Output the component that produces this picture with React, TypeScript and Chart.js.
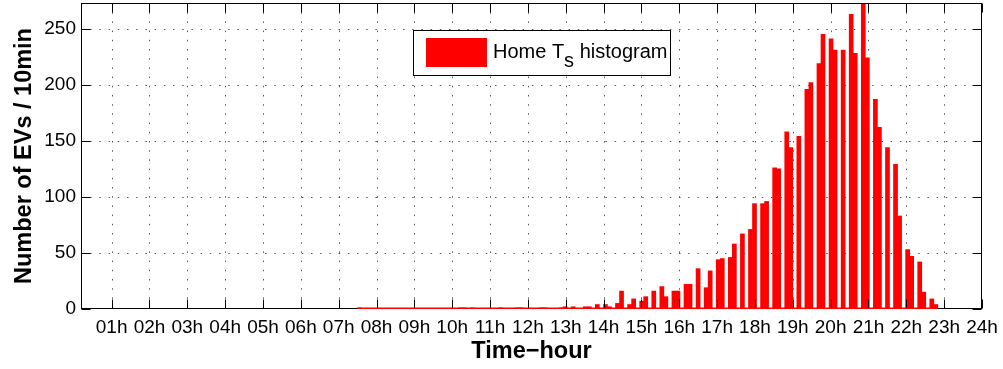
import React, { useEffect, useRef } from 'react';
import { Chart, registerables } from 'chart.js';

Chart.register(...registerables);

// ---- data ----
// EV start-time counts, one value per 10-minute slot from 07:30 to 22:50
const slotStartHour = 7.5;
const slotEndHour = 22 + 50 / 60;
const slotCounts = [
  1, 0, 0, 0, 0, 0, 0, 0, 0, 0, 0, 0, 0, 0, 0, 0,
  1, 1, 1, 0, 0, 0, 0, 1, 0, 1, 1, 0, 0, 1, 1, 0,
  1, 2, 2, 0, 2, 2, 4, 4, 2, 5, 16, 4, 9, 7, 11, 16,
  20, 11, 16, 16, 22, 22, 36, 19, 34, 44, 45, 46, 58, 67, 71, 94,
  94, 96, 126, 125, 158, 144, 154, 196, 202, 219, 245, 241, 231, 231, 263, 228,
  273, 224, 187, 162, 144, 129, 83, 53, 47, 42, 15, 9, 4,
];
// number of histogram bins used over [slotStartHour, slotEndHour]
const histBins = 144;

const xTickHours = [1, 2, 3, 4, 5, 6, 7, 8, 9, 10, 11, 12, 13, 14, 15, 16, 17, 18, 19, 20, 21, 22, 23, 24];
const xTickLabels = [
  '01h', '02h', '03h', '04h', '05h', '06h', '07h', '08h', '09h', '10h', '11h', '12h',
  '13h', '14h', '15h', '16h', '17h', '18h', '19h', '20h', '21h', '22h', '23h', '24h',
];
const yTickValues = [0, 50, 100, 150, 200, 250];
const xMin = 0.19;
const xMax = 24;
const yMin = 0;
const yMax = 273;

const legendParts = ['Home T', 's', ' histogram'];
const xTitle = 'Time\u2212hour';
const yTitle = 'Number of EVs / 10min';

// ---- style ----
const barColor = '#ff0000';
const FONT = '"Liberation Sans", Arial, Helvetica, sans-serif';

function buildBins() {
  const width = (slotEndHour - slotStartHour) / histBins;
  const counts = new Array(histBins).fill(0);
  const n = slotCounts.length - 1;
  slotCounts.forEach((c, j) => {
    const k = j === 0 ? 0 : Math.min(histBins - 1, Math.ceil((j * histBins) / n) - 1);
    counts[k] += c;
  });
  return counts.map((c, k) => ({ x: slotStartHour + (k + 0.5) * width, y: c }));
}

const gridPlugin = {
  id: 'dottedGrid',
  beforeDatasetsDraw(chart: any) {
    const { ctx, chartArea } = chart;
    const { left, right, top, bottom } = chartArea;
    const xs = chart.scales.x;
    const ys = chart.scales.y;
    ctx.save();
    ctx.strokeStyle = 'rgba(60,60,60,0.85)';
    ctx.lineWidth = 1;
    ctx.setLineDash([1.5, 7.7]);
    xTickHours.forEach((h) => {
      const px = Math.round(xs.getPixelForValue(h)) + 0.5;
      if (px <= left + 1 || px >= right - 1) return;
      ctx.beginPath();
      ctx.moveTo(px, top);
      ctx.lineTo(px, bottom);
      ctx.stroke();
    });
    yTickValues.forEach((v) => {
      const py = Math.round(ys.getPixelForValue(v)) + 0.5;
      if (py <= top + 1 || py >= bottom - 1) return;
      ctx.beginPath();
      ctx.moveTo(left, py);
      ctx.lineTo(right, py);
      ctx.stroke();
    });
    ctx.restore();
  },
};

const framePlugin = {
  id: 'matlabFrame',
  afterDatasetsDraw(chart: any) {
    const { ctx, chartArea } = chart;
    const { left, right, top, bottom } = chartArea;
    const xs = chart.scales.x;
    const ys = chart.scales.y;
    ctx.save();
    ctx.setLineDash([]);
    ctx.strokeStyle = '#000';
    ctx.lineWidth = 1;
    const L = Math.round(left) + 0.5;
    const R = Math.round(right) - 0.5;
    const T = Math.round(top) + 0.5;
    const B = Math.round(bottom) - 0.5;
    ctx.strokeRect(L, T, R - L, B - T);
    // inward ticks
    const tl = 9;
    ctx.beginPath();
    xTickHours.forEach((h) => {
      const px = Math.round(xs.getPixelForValue(h)) + 0.5;
      ctx.moveTo(px, B);
      ctx.lineTo(px, B - tl);
      ctx.moveTo(px, T);
      ctx.lineTo(px, T + tl);
    });
    yTickValues.forEach((v) => {
      const py = Math.round(ys.getPixelForValue(v)) + 0.5;
      ctx.moveTo(L, py);
      ctx.lineTo(L + tl, py);
      ctx.moveTo(R, py);
      ctx.lineTo(R - tl, py);
    });
    ctx.stroke();
    // red edge of the (empty) histogram bins along the baseline
    ctx.strokeStyle = barColor;
    ctx.lineWidth = 1.5;
    const y0 = ys.getPixelForValue(0) - 0.75;
    ctx.beginPath();
    ctx.moveTo(xs.getPixelForValue(slotStartHour), y0);
    ctx.lineTo(xs.getPixelForValue(slotEndHour), y0);
    ctx.stroke();
    ctx.restore();
  },
};

const legendPlugin = {
  id: 'matlabLegend',
  afterDraw(chart: any) {
    const { ctx } = chart;
    ctx.save();
    ctx.setLineDash([]);
    ctx.fillStyle = '#fff';
    ctx.fillRect(413, 30, 258, 46);
    ctx.strokeStyle = '#000';
    ctx.lineWidth = 1;
    ctx.strokeRect(413.5, 30.5, 257, 45);
    ctx.fillStyle = barColor;
    ctx.fillRect(426, 38, 61, 29);
    ctx.fillStyle = '#000';
    ctx.font = `20px ${FONT}`;
    ctx.textBaseline = 'alphabetic';
    ctx.textAlign = 'left';
    let x = 493;
    ctx.fillText(legendParts[0], x, 58);
    x += ctx.measureText(legendParts[0]).width;
    ctx.fillText(legendParts[1], x, 67);
    x += ctx.measureText(legendParts[1]).width;
    ctx.fillText(legendParts[2], x, 58);
    ctx.restore();
  },
};

export default function App() {
  const canvasRef = useRef<HTMLCanvasElement | null>(null);

  useEffect(() => {
    document.body.style.margin = '0';
    const canvas = canvasRef.current;
    if (!canvas) return;
    const chart = new Chart(canvas, {
      type: 'bar',
      data: {
        datasets: [
          {
            label: legendParts.join(''),
            data: buildBins(),
            backgroundColor: barColor,
            borderWidth: 0,
            barPercentage: 1,
            categoryPercentage: 1,
          } as any,
        ],
      },
      options: {
        responsive: false,
        animation: false,
        devicePixelRatio: 1,
        layout: { padding: { left: 0, right: 21, top: 3, bottom: 0 } },
        plugins: { legend: { display: false }, tooltip: { enabled: false } },
        scales: {
          x: {
            type: 'linear',
            min: xMin,
            max: xMax,
            offset: false,
            grid: { display: false, drawTicks: false },
            border: { display: false },
            afterBuildTicks: (axis: any) => {
              axis.ticks = xTickHours.map((v) => ({ value: v }));
            },
            afterFit: (s: any) => {
              s.height = 60;
              s.paddingLeft = 0;
              s.paddingRight = 0;
            },
            ticks: {
              autoSkip: false,
              maxRotation: 0,
              minRotation: 0,
              padding: 7,
              color: '#000',
              font: { family: FONT, size: 19 },
              callback: (_v: any, i: number) => xTickLabels[i],
            },
            title: {
              display: true,
              text: xTitle,
              color: '#000',
              font: { family: FONT, size: 23.5, weight: 'bold' },
              padding: { top: 0, bottom: 3 },
            },
          },
          y: {
            type: 'linear',
            min: yMin,
            max: yMax,
            grid: { display: false, drawTicks: false },
            border: { display: false },
            afterBuildTicks: (axis: any) => {
              axis.ticks = yTickValues.map((v) => ({ value: v }));
            },
            afterFit: (s: any) => {
              s.width = 81;
              s.paddingTop = 0;
              s.paddingBottom = 0;
            },
            ticks: {
              padding: 5,
              color: '#000',
              font: { family: FONT, size: 19 },
            },
            title: {
              display: true,
              text: yTitle,
              color: '#000',
              font: { family: FONT, size: 23.5, weight: 'bold' },
              padding: { top: 10, bottom: 0 },
            },
          },
        },
      } as any,
      plugins: [gridPlugin, framePlugin, legendPlugin],
    });
    return () => chart.destroy();
  }, []);

  return (
    <canvas
      ref={canvasRef}
      width={1003}
      height={369}
      style={{ display: 'block', width: '1003px', height: '369px' }}
    />
  );
}
